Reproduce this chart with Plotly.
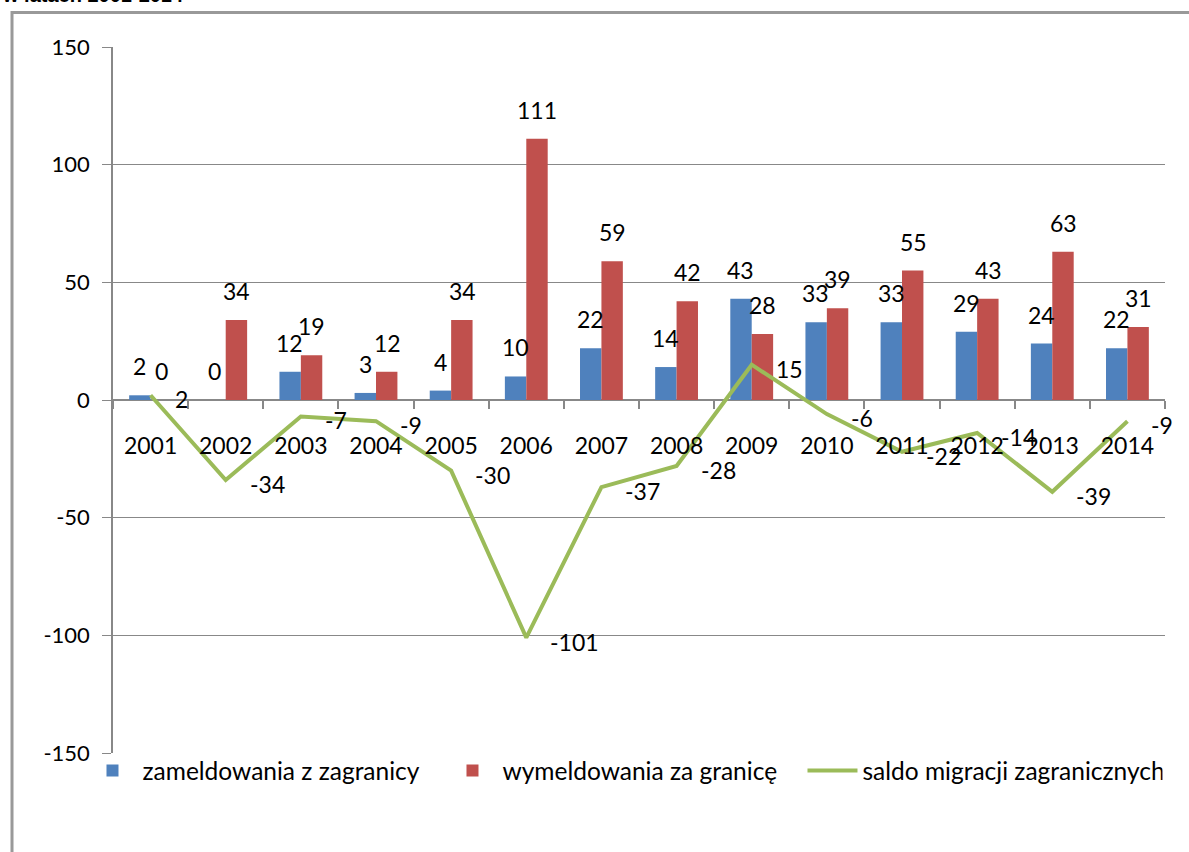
import plotly.graph_objects as go

# dane
years = ['2001', '2002', '2003', '2004', '2005', '2006', '2007',
         '2008', '2009', '2010', '2011', '2012', '2013', '2014']
zameldowania = [2, 0, 12, 3, 4, 10, 22, 14, 43, 33, 33, 29, 24, 22]
wymeldowania = [0, 34, 19, 12, 34, 111, 59, 42, 28, 39, 55, 43, 63, 31]
saldo = [2, -34, -7, -9, -30, -101, -37, -28, 15, -6, -22, -14, -39, -9]
y_ticks = [-150, -100, -50, 0, 50, 100, 150]

BLUE = '#4F81BD'
RED = '#C0504D'
GREEN = '#9BBB59'
AXIS = '#888888'
FONT = 'Lato'

fig = go.Figure()

fig.add_trace(go.Bar(
    x=years, y=zameldowania, name='zameldowania z zagranicy',
    marker=dict(color=BLUE, line=dict(width=0))
))
fig.add_trace(go.Bar(
    x=years, y=wymeldowania, name='wymeldowania za granicę',
    marker=dict(color=RED, line=dict(width=0))
))
fig.add_trace(go.Scatter(
    x=years, y=saldo, name='saldo migracji zagranicznych',
    mode='lines', line=dict(color=GREEN, width=4)
))
# pusty ślad dla osi pomocniczej (podpisy lat na linii zera)
fig.add_trace(go.Scatter(x=[], y=[], xaxis='x2', yaxis='y2',
                         showlegend=False, hoverinfo='skip'))

lbl_font = dict(family=FONT, size=23, color='black')

# etykiety danych - na osi kategorii x to numer kategorii (lata wyglądają jak liczby)
annotations = []
for i, v in enumerate(zameldowania):
    annotations.append(dict(x=i, y=v, xref='x', yref='y', text=str(v),
                            showarrow=False, xshift=-11, yshift=29, font=lbl_font))
for i, v in enumerate(wymeldowania):
    annotations.append(dict(x=i, y=v, xref='x', yref='y', text=str(v),
                            showarrow=False, xshift=11, yshift=29, font=lbl_font))
for i, v in enumerate(saldo):
    annotations.append(dict(x=i, y=v, xref='x', yref='y', text=str(v),
                            showarrow=False, xanchor='left', xshift=22, yshift=-4,
                            font=lbl_font))

# ucięty tytuł u góry
annotations.append(dict(x=-0.107, y=1.073, xref='paper', yref='paper',
                        xanchor='left', yanchor='middle', showarrow=False,
                        text='<b>w latach 2001-2014</b>',
                        font=dict(family='Liberation Sans', size=20, color='black')))

fig.update_layout(
    width=1189, height=852,
    margin=dict(l=113, r=24, t=47, b=99),
    plot_bgcolor='rgba(0,0,0,0)', paper_bgcolor='white',
    barmode='group', bargap=0.43, bargroupgap=0,
    font=dict(family=FONT, size=23, color='black'),
    showlegend=True,
    legend=dict(orientation='h', x=-0.029, y=-0.025, xanchor='left', yanchor='middle',
                font=dict(family=FONT, size=24.5, color='black'),
                entrywidth=295, entrywidthmode='pixels',
                itemwidth=50, bgcolor='rgba(0,0,0,0)'),
    annotations=annotations,
    shapes=[dict(type='rect', xref='paper', yref='paper',
                 x0=-0.096, x1=1.03, y0=-0.16, y1=1.049,
                 line=dict(color='#999999', width=3), layer='below')],
    xaxis=dict(type='category', range=[-0.5, 13.5],
               showline=False, ticks='', showticklabels=False,
               showgrid=False, zeroline=False),
    yaxis=dict(range=[-150, 150], tickvals=y_ticks,
               ticktext=[str(t) for t in y_ticks],
               showline=True, linecolor=AXIS, linewidth=1.5,
               ticks='outside', ticklen=9, tickcolor=AXIS,
               showgrid=True, gridcolor=AXIS, gridwidth=1.2,
               zeroline=True, zerolinecolor=AXIS, zerolinewidth=1.5,
               ticklabelstandoff=8,
               tickfont=dict(family=FONT, size=22, color='black')),
    # oś pomocnicza leżąca na linii zera: kreski między kategoriami i lata
    xaxis2=dict(anchor='y2', domain=[0, 1], range=[0, len(years)],
                tickvals=[i + 0.5 for i in range(len(years))], ticktext=years,
                ticks='', ticklabelstandoff=30,
                minor=dict(tickvals=list(range(len(years) + 1)), ticks='outside',
                           ticklen=8, tickcolor=AXIS, tickwidth=1.5, showgrid=False),
                showgrid=False, zeroline=False, showline=False,
                tickfont=dict(family=FONT, size=23, color='black')),
    yaxis2=dict(anchor='x2', domain=[0.5, 1], visible=False, range=[0, 1]),
)

fig.write_html("out.html", config={'displayModeBar': False},
               post_script="document.body.style.margin='0';")
